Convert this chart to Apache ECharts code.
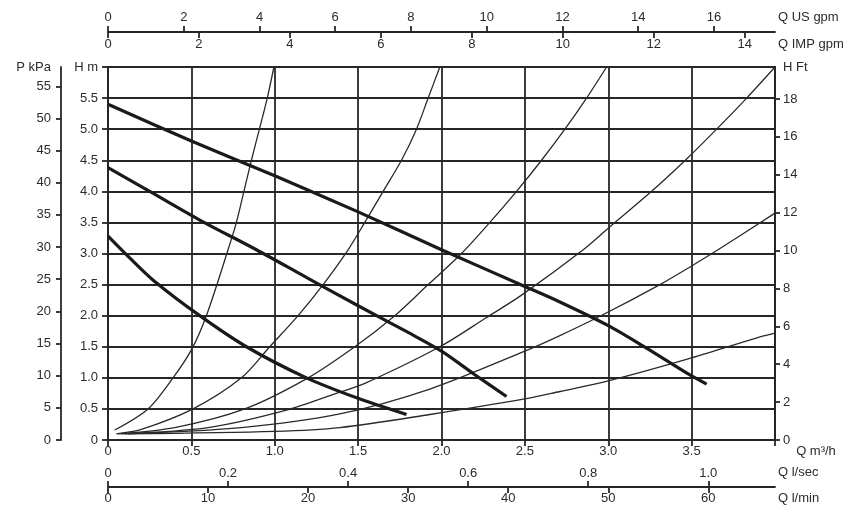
<!DOCTYPE html>
<html><head><meta charset="utf-8">
<script src="https://cdn.jsdelivr.net/npm/echarts@6/dist/echarts.min.js"></script>
<style>html,body{margin:0;padding:0;background:#fff}#c{width:863px;height:509px}</style>
</head><body><div id="c"></div><script>
// ---- tick labels / axis values ----
const usGpmTicks = [0, 2, 4, 6, 8, 10, 12, 14, 16];
const impGpmTicks = [0, 2, 4, 6, 8, 10, 12, 14];
const lsecTicks = [0, 0.2, 0.4, 0.6, 0.8, 1.0];
const lminTicks = [0, 10, 20, 30, 40, 50, 60];
const ftTicks = [0, 2, 4, 6, 8, 10, 12, 14, 16, 18];
const kpaTicks = [0, 5, 10, 15, 20, 25, 30, 35, 40, 45, 50, 55];
const Q_MAX = 4;      // m3/h
const H_MAX = 6;      // m
const KPA_MAX = 58;   // kPa at top of chart

// ---- pump curves (thick) ----
const pumpHighQ = [0, 0.5, 1.0, 1.5, 2.0, 2.5, 2.71, 3.0, 3.21, 3.5, 3.59];
const pumpHighH = [5.40, 4.81, 4.25, 3.67, 3.06, 2.47, 2.22, 1.84, 1.51, 1.03, 0.90];
const pumpMidQ = [0, 0.25, 0.57, 0.89, 1.2, 1.5, 1.8, 2.0, 2.2, 2.39];
const pumpMidH = [4.38, 4.0, 3.51, 3.06, 2.6, 2.16, 1.73, 1.43, 1.05, 0.70];
const pumpLowQ = [0, 0.13, 0.28, 0.55, 0.83, 1.19, 1.5, 1.79];
const pumpLowH = [3.28, 2.93, 2.55, 2.0, 1.5, 1.0, 0.67, 0.41];

// ---- system curves (thin) ----
const sysAQ = [0.04, 0.24, 0.39, 0.5, 0.59, 0.72, 0.77, 0.815, 0.86, 0.908, 0.955, 0.995];
const sysAH = [0.16, 0.5, 1.0, 1.45, 2.0, 3.06, 3.5, 4.0, 4.5, 5.0, 5.5, 6.0];
const sysBQ = [0.05, 0.2, 0.51, 0.80, 0.97, 1.14, 1.29, 1.44, 1.54, 1.65, 1.76, 1.85, 1.92, 1.99];
const sysBH = [0.1, 0.17, 0.5, 1.0, 1.5, 2.0, 2.5, 3.06, 3.5, 4.0, 4.5, 5.0, 5.5, 6.0];
const sysCQ = [0.06, 0.4, 0.82, 1.2, 1.48, 1.72, 1.92, 2.12, 2.29, 2.45, 2.6, 2.74, 2.87, 2.99];
const sysCH = [0.1, 0.2, 0.5, 1.0, 1.5, 2.0, 2.5, 3.0, 3.5, 4.0, 4.5, 5.0, 5.5, 6.0];
const sysDQ = [0.08, 0.6, 1.07, 1.39, 1.54, 1.99, 2.27, 2.48, 2.85, 3.01, 3.26, 3.47, 3.65, 3.83, 4.0];
const sysDH = [0.1, 0.2, 0.48, 0.77, 0.91, 1.5, 1.97, 2.33, 3.06, 3.43, 4.0, 4.52, 5.0, 5.5, 6.0];
const sysEQ = [0.1, 0.8, 1.39, 1.93, 2.5, 2.71, 2.95, 3.31, 3.5, 3.67, 4.0];
const sysEH = [0.1, 0.2, 0.42, 0.82, 1.43, 1.68, 1.99, 2.5, 2.80, 3.08, 3.65];
const sysFQ = [0.12, 1.0, 1.39, 1.93, 2.5, 2.71, 3.0, 3.5, 3.91, 4.0];
const sysFH = [0.1, 0.14, 0.2, 0.41, 0.66, 0.78, 0.95, 1.32, 1.66, 1.72];

// ---- build ----
const pairs = (q, h) => q.map((v, i) => [v, h[i]]);
const FONT = { fontFamily: 'Liberation Sans', fontSize: 13, color: '#2b2b2b' };
const LINE = { color: '#262626', width: 1.8 };
const fmt1 = v => (v === 0 ? '0' : v.toFixed(1));

const usMax = Q_MAX * 1000 / 60 / 3.785411784;
const impMax = Q_MAX * 1000 / 60 / 4.54609;
const lsecMax = Q_MAX / 3.6;
const lminMax = Q_MAX * 1000 / 60;
const ftMax = H_MAX / 0.3048;

function extraX(o) {
  return Object.assign({
    type: 'value', min: 0, splitLine: { show: false },
    axisLine: { show: true, onZero: false, lineStyle: LINE },
    axisTick: { show: true, length: 6, lineStyle: LINE },
    axisLabel: Object.assign({}, FONT),
    nameLocation: 'end', nameGap: 3
  }, o);
}

const thick = (name, q, h) => ({
  name, type: 'line', data: pairs(q, h), xAxisIndex: 0, yAxisIndex: 0,
  showSymbol: false, smooth: 0.3, z: 5,
  lineStyle: { color: '#1a1a1a', width: 3.2 }
});
const thin = (name, q, h) => ({
  name, type: 'line', data: pairs(q, h), xAxisIndex: 0, yAxisIndex: 0,
  showSymbol: false, smooth: 0.3, z: 4,
  lineStyle: { color: '#2a2a2a', width: 1.3 }
});

const option = {
  animation: false,
  backgroundColor: '#fff',
  grid: { left: 108, right: 88, top: 67, bottom: 69, show: true, borderColor: '#262626', borderWidth: 1.8,
          containLabel: false, outerBoundsMode: 'none' },
  xAxis: [
    {
      type: 'value', min: 0, max: Q_MAX, interval: 0.5, position: 'bottom',
      axisLine: { show: true, onZero: false, lineStyle: LINE },
      axisTick: { show: true, length: 6, lineStyle: LINE },
      axisLabel: Object.assign({ margin: 5, formatter: v => (v === Q_MAX ? '' : fmt1(v)) }, FONT),
      splitLine: { show: true, lineStyle: LINE },
      name: 'Q m³/h', nameLocation: 'end', nameGap: 2,
      nameTextStyle: Object.assign({ align: 'left', verticalAlign: 'top', padding: [5, 0, 0, 0] }, FONT)
    },
    extraX({
      position: 'top', offset: 35, max: usMax,
      axisTick: { show: true, length: 6, lineStyle: LINE, customValues: usGpmTicks },
      axisLabel: Object.assign({ margin: 8, customValues: usGpmTicks }, FONT),
      name: 'Q US gpm',
      nameTextStyle: Object.assign({ align: 'left', verticalAlign: 'bottom', padding: [0, 0, 8, 0] }, FONT)
    }),
    extraX({
      position: 'top', offset: 35, max: impMax,
      axisLine: { show: false, onZero: false },
      axisTick: { show: true, inside: true, length: 6, lineStyle: LINE, customValues: impGpmTicks },
      axisLabel: Object.assign({ inside: true, margin: 6, customValues: impGpmTicks }, FONT),
      name: 'Q IMP gpm',
      nameTextStyle: Object.assign({ align: 'left', verticalAlign: 'top', padding: [6, 0, 0, 0] }, FONT)
    }),
    extraX({
      position: 'bottom', offset: 47, max: lsecMax,
      axisLine: { show: false, onZero: false },
      axisTick: { show: true, inside: true, length: 6, lineStyle: LINE, customValues: lsecTicks },
      axisLabel: Object.assign({ inside: true, margin: 7, customValues: lsecTicks, formatter: fmt1 }, FONT),
      name: 'Q l/sec',
      nameTextStyle: Object.assign({ align: 'left', verticalAlign: 'bottom', padding: [0, 0, 8, 0] }, FONT)
    }),
    extraX({
      position: 'bottom', offset: 47, max: lminMax,
      axisTick: { show: true, length: 6, lineStyle: LINE, customValues: lminTicks },
      axisLabel: Object.assign({ margin: 5, customValues: lminTicks }, FONT),
      name: 'Q l/min',
      nameTextStyle: Object.assign({ align: 'left', verticalAlign: 'top', padding: [5, 0, 0, 0] }, FONT)
    })
  ],
  yAxis: [
    {
      type: 'value', min: 0, max: H_MAX, interval: 0.5, position: 'left',
      axisLine: { show: true, onZero: false, lineStyle: LINE },
      axisTick: { show: true, length: 6, lineStyle: LINE },
      axisLabel: Object.assign({ margin: 10, formatter: v => (v === H_MAX ? 'H m' : fmt1(v)) }, FONT),
      splitLine: { show: true, lineStyle: LINE }
    },
    {
      type: 'value', min: 0, max: ftMax, position: 'right',
      axisLine: { show: true, onZero: false, lineStyle: LINE },
      axisTick: { show: true, length: 5, lineStyle: LINE, customValues: ftTicks },
      axisLabel: Object.assign({ margin: 8, customValues: ftTicks }, FONT),
      splitLine: { show: false },
      name: 'H Ft', nameLocation: 'end', nameGap: 0,
      nameTextStyle: Object.assign({ align: 'left', verticalAlign: 'middle', padding: [0, 0, 0, 8] }, FONT)
    },
    {
      type: 'value', min: 0, max: KPA_MAX, position: 'left', offset: 47,
      axisLine: { show: true, onZero: false, lineStyle: LINE },
      axisTick: { show: true, length: 5, lineStyle: LINE, customValues: kpaTicks },
      axisLabel: Object.assign({ margin: 10, customValues: kpaTicks }, FONT),
      splitLine: { show: false },
      name: 'P kPa', nameLocation: 'end', nameGap: 0,
      nameTextStyle: Object.assign({ align: 'right', verticalAlign: 'middle', padding: [0, 10, 0, 0] }, FONT)
    }
  ],
  series: [
    thin('sysA', sysAQ, sysAH),
    thin('sysB', sysBQ, sysBH),
    thin('sysC', sysCQ, sysCH),
    thin('sysD', sysDQ, sysDH),
    thin('sysE', sysEQ, sysEH),
    thin('sysF', sysFQ, sysFH),
    thick('pumpHigh', pumpHighQ, pumpHighH),
    thick('pumpMid', pumpMidQ, pumpMidH),
    thick('pumpLow', pumpLowQ, pumpLowH)
  ]
};

const chart = echarts.init(document.getElementById('c'), null, { renderer: 'canvas' });
chart.setOption(option);
</script></body></html>
